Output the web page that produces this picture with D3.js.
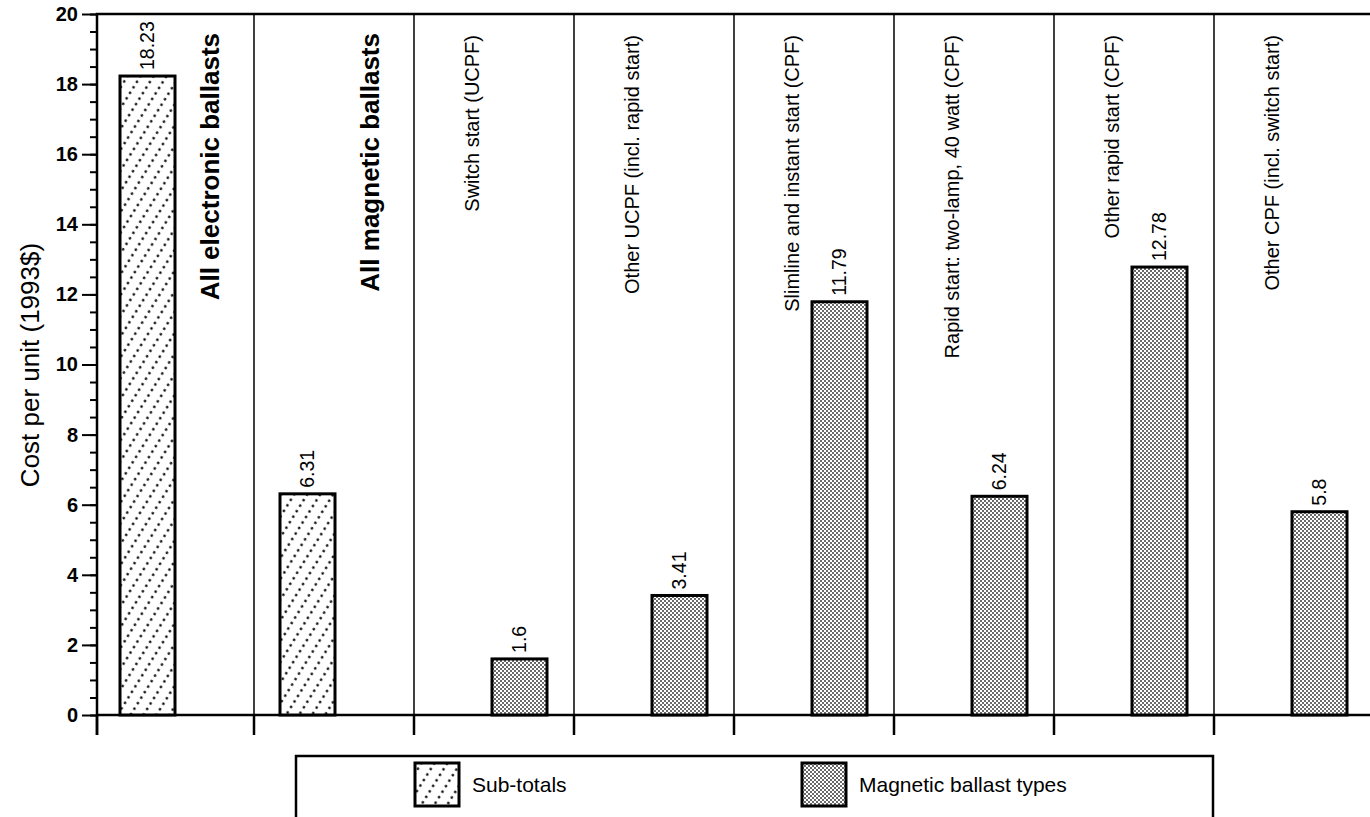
<!DOCTYPE html>
<meta charset="utf-8">
<style>
body { margin: 0; background: #fff; }
svg { display: block; }
text { font-family: "Liberation Sans", Arial, Helvetica, sans-serif; fill: #000; }
.tick text { font-size: 20px; font-weight: bold; }
.tick line { stroke: #000; stroke-width: 2; }
.domain { display: none; }
.cat { font-size: 20px; }
.cat.bold { font-size: 26px; font-weight: bold; }
.val { font-size: 19.5px; }
.frame { stroke: #000; stroke-width: 2.5; fill: none; }
.sep { stroke: #000; stroke-width: 1.5; }
.bar { stroke: #000; stroke-width: 3; }
.legend text { font-size: 21px; }
</style>
<body>
<div id="chart"></div>
<script src="https://d3js.org/d3.v7.min.js"></script>
<script>

// data
var categories = [
  "All electronic ballasts",
  "All magnetic ballasts",
  "Switch start (UCPF)",
  "Other UCPF (incl. rapid start)",
  "Slimline and instant start (CPF)",
  "Rapid start: two-lamp, 40 watt (CPF)",
  "Other rapid start (CPF)",
  "Other CPF (incl. switch start)"
];
var values = [18.23, 6.31, 1.6, 3.41, 11.79, 6.24, 12.78, 5.8];
var groups = ["sub", "sub", "mag", "mag", "mag", "mag", "mag", "mag"];
var legendLabels = ["Sub-totals", "Magnetic ballast types"];
var yTicks = [0, 2, 4, 6, 8, 10, 12, 14, 16, 18, 20];

var W = 1370, H = 817;
var x0 = 97, xEnd = 1370, yTop = 14, yBase = 715;
var barW = 55;

var data = categories.map(function(c, i) {
  return { name: c, value: values[i], group: groups[i] };
});

var x = d3.scaleBand()
    .domain(categories)
    .range([94, 1374])
    .padding(0);
var y = d3.scaleLinear()
    .domain([0, 20])
    .range([yBase, yTop]);

var svg = d3.select("#chart").append("svg")
    .attr("width", W)
    .attr("height", H);

// fill patterns
var defs = svg.append("defs");
var diag = defs.append("pattern")
    .attr("id", "pat-sub")
    .attr("patternUnits", "userSpaceOnUse")
    .attr("width", 6.5)
    .attr("height", 11)
    .attr("patternTransform", "rotate(-58)");
diag.append("rect").attr("width", 6.5).attr("height", 11).attr("fill", "#fff");
diag.append("circle").attr("cx", 3.25).attr("cy", 5.5).attr("r", 1.3).attr("fill", "#000");

var stip = defs.append("pattern")
    .attr("id", "pat-mag")
    .attr("patternUnits", "userSpaceOnUse")
    .attr("width", 4)
    .attr("height", 4);
stip.append("rect").attr("width", 4).attr("height", 4).attr("fill", "#fff");
stip.append("circle").attr("cx", 1).attr("cy", 1).attr("r", 0.9).attr("fill", "#222");
stip.append("circle").attr("cx", 3).attr("cy", 3).attr("r", 0.9).attr("fill", "#222");

var fills = { sub: "url(#pat-sub)", mag: "url(#pat-mag)" };
var barOffset = { sub: 26, mag: 78 };
var labelOffset = { sub: 116, mag: 58 };

// category separators
svg.selectAll("line.sep")
    .data(categories.slice(1))
    .enter().append("line")
    .attr("class", "sep")
    .attr("x1", function(d) { return x(d); })
    .attr("x2", function(d) { return x(d); })
    .attr("y1", yTop)
    .attr("y2", yBase);

// x ticks below baseline
svg.selectAll("line.xtick")
    .data(categories)
    .enter().append("line")
    .attr("class", "xtick")
    .attr("stroke", "#000")
    .attr("stroke-width", 2.5)
    .attr("x1", function(d, i) { return i == 0 ? x0 : x(d); })
    .attr("x2", function(d, i) { return i == 0 ? x0 : x(d); })
    .attr("y1", yBase)
    .attr("y2", yBase + 20);

// y axis minor ticks
svg.append("g")
    .attr("transform", "translate(" + x0 + ",0)")
    .call(d3.axisLeft(y).tickValues(d3.range(0, 20.01, 0.5)).tickSize(7).tickFormat(""));
// y axis major ticks
svg.append("g")
    .attr("transform", "translate(" + x0 + ",0)")
    .call(d3.axisLeft(y).tickValues(yTicks).tickSize(15).tickPadding(4).tickFormat(d3.format("d")));

// frame: left axis, baseline, top line
svg.append("path")
    .attr("class", "frame")
    .attr("d", "M" + xEnd + "," + yTop + "H" + x0 + "V" + (yBase + 20));
svg.append("line")
    .attr("class", "frame")
    .attr("x1", x0).attr("x2", xEnd)
    .attr("y1", yBase).attr("y2", yBase);

// bars
svg.selectAll("rect.bar")
    .data(data)
    .enter().append("rect")
    .attr("class", "bar")
    .attr("x", function(d) { return x(d.name) + barOffset[d.group]; })
    .attr("y", function(d) { return y(d.value); })
    .attr("width", barW)
    .attr("height", function(d) { return y(0) - y(d.value); })
    .attr("fill", function(d) { return fills[d.group]; });

// value labels
svg.selectAll("text.val")
    .data(data)
    .enter().append("text")
    .attr("class", "val")
    .attr("transform", function(d) {
      return "translate(" + (x(d.name) + barOffset[d.group] + barW / 2) + "," + (y(d.value) - 6) + ") rotate(-90)";
    })
    .attr("dy", "0.35em")
    .text(function(d) { return String(d.value); });

// category labels
svg.selectAll("text.cat")
    .data(data)
    .enter().append("text")
    .attr("class", function(d) { return d.group == "sub" ? "cat bold" : "cat"; })
    .attr("transform", function(d) {
      var top = d.group == "sub" ? 33 : 35;
      return "translate(" + (x(d.name) + labelOffset[d.group]) + "," + top + ") rotate(-90)";
    })
    .attr("dy", "0.35em")
    .attr("text-anchor", "end")
    .text(function(d) { return d.name; });

// y axis title
svg.append("text")
    .attr("transform", "translate(30," + 365 + ") rotate(-90)")
    .attr("dy", "0.35em")
    .attr("text-anchor", "middle")
    .style("font-size", "26px")
    .text("Cost per unit (1993$)");

// legend
var legend = svg.append("g").attr("class", "legend");
legend.append("rect")
    .attr("class", "frame")
    .attr("x", 296).attr("y", 756)
    .attr("width", 917).attr("height", 70);
var legendItems = [
  { label: legendLabels[0], fill: fills.sub, x: 415 },
  { label: legendLabels[1], fill: fills.mag, x: 802 }
];
var li = legend.selectAll("g.item")
    .data(legendItems)
    .enter().append("g")
    .attr("class", "item")
    .attr("transform", function(d) { return "translate(" + d.x + ",763)"; });
li.append("rect")
    .attr("width", 44).attr("height", 43)
    .attr("fill", function(d) { return d.fill; })
    .attr("stroke", "#000").attr("stroke-width", 3);
li.append("text")
    .attr("x", 57).attr("y", 22)
    .attr("dy", "0.35em")
    .text(function(d) { return d.label; });

</script>
</body>
